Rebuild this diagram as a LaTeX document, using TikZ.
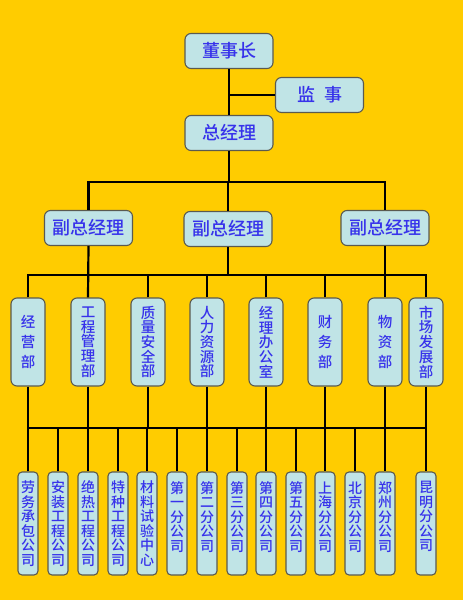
\documentclass[tikz,border=0pt]{standalone}
\usepackage{fontspec}
\setmainfont{Noto Sans CJK SC Medium}
\definecolor{bgyellow}{RGB}{255,204,0}
\definecolor{boxblue}{RGB}{192,228,230}
\definecolor{boxline}{RGB}{90,90,80}
\definecolor{txtblue}{RGB}{55,50,235}
\begin{document}
\begin{tikzpicture}[x=1pt, y=-1pt,
  box/.style={draw=boxline, line width=1.1pt, fill=boxblue, rounded corners=6pt,
    text=txtblue, inner sep=0pt},
  topbox/.style={box, minimum width=88pt, minimum height=35pt,
    font=\fontsize{18pt}{20pt}\selectfont},
  deptbox/.style={box, minimum width=34pt, minimum height=88pt, align=center,
    font=\fontsize{14.5pt}{14.7pt}\selectfont},
  deptwide/.style={deptbox, font=\fontsize{14.5pt}{20pt}\selectfont},
  subbox/.style={box, rounded corners=4pt, minimum width=20pt, minimum height=103pt,
    align=center, font=\fontsize{14pt}{14.5pt}\selectfont},
  wire/.style={line width=2.2pt}]

\path[fill=bgyellow, use as bounding box] (0,0) rectangle (463,600);

% top
\node[topbox] (chair) at (229,51) {董事长};
\node[topbox] (super) at (319.5,95) {监\hspace{9pt}事};
\node[topbox] (gm) at (229,133) {总经理};

\node[topbox] (vp1) at (88.5,228) {副总经理};
\node[topbox] (vp2) at (228,229) {副总经理};
\node[topbox] (vp3) at (385,228) {副总经理};

% departments
\node[deptwide] (d1) at (28,342) {经\\营\\部};
\node[deptbox] (d2) at (88,342) {工\\程\\管\\理\\部};
\node[deptbox] (d3) at (148,342) {质\\量\\安\\全\\部};
\node[deptbox] (d4) at (207,342) {人\\力\\资\\源\\部};
\node[deptbox] (d5) at (266,342) {经\\理\\办\\公\\室};
\node[deptwide] (d6) at (325,342) {财\\务\\部};
\node[deptwide] (d7) at (385,342) {物\\资\\部};
\node[deptbox] (d8) at (426,342) {市\\场\\发\\展\\部};

% subsidiaries
\node[subbox] (s1) at (28,523.5) {劳\\务\\承\\包\\公\\司};
\node[subbox] (s2) at (58,523.5) {安\\装\\工\\程\\公\\司};
\node[subbox] (s3) at (88,523.5) {绝\\热\\工\\程\\公\\司};
\node[subbox] (s4) at (118,523.5) {特\\种\\工\\程\\公\\司};
\node[subbox] (s5) at (147,523.5) {材\\料\\试\\验\\中\\心};
\node[subbox] (s6) at (177,523.5) {第\\一\\分\\公\\司\\\mbox{}};
\node[subbox] (s7) at (207,523.5) {第\\二\\分\\公\\司\\\mbox{}};
\node[subbox] (s8) at (237,523.5) {第\\三\\分\\公\\司\\\mbox{}};
\node[subbox] (s9) at (266,523.5) {第\\四\\分\\公\\司\\\mbox{}};
\node[subbox] (s10) at (296,523.5) {第\\五\\分\\公\\司\\\mbox{}};
\node[subbox] (s11) at (325,523.5) {上\\海\\分\\公\\司\\\mbox{}};
\node[subbox] (s12) at (355,523.5) {北\\京\\分\\公\\司\\\mbox{}};
\node[subbox] (s13) at (385,523.5) {郑\\州\\分\\公\\司\\\mbox{}};
\node[subbox] (s14) at (426,523.5) {昆\\明\\分\\公\\司\\\mbox{}};

% bus lines
\coordinate (busA) at (228,182);
\coordinate (busB) at (228,275);
\coordinate (busC) at (228,428);

\draw[wire] (chair.south) -- (gm.north);
\draw[wire] (super.west) -- (super.west -| gm.north);
\draw[wire] (gm.south) -- (gm.south |- busA);
\draw[wire] (vp1.north) |- (busA) -| (vp3.north);
\draw[wire] (busA) -- (vp2.north);

\draw[wire] (d1.north) |- (busB) -| (d8.north);
\draw[wire] (vp1.south) -- (d2.north);
\draw[wire] (vp3.south) -- (d7.north);
\draw[wire] (vp2.south) -- (busB);
\draw[wire] (d3.north) -- (d3.north |- busB);
\draw[wire] (d4.north) -- (d4.north |- busB);
\draw[wire] (d5.north) -- (d5.north |- busB);
\draw[wire] (d6.north) -- (d6.north |- busB);

\draw[wire] (s1.north) |- (busC) -| (s14.north);
\draw[wire] (d1.south) -- (s1.north);
\draw[wire] (d2.south) -- (s3.north);
\draw[wire] (d3.south) -- (d3.south |- busC);
\draw[wire] (d4.south) -- (s7.north);
\draw[wire] (d5.south) -- (s9.north);
\draw[wire] (d6.south) -- (s11.north);
\draw[wire] (d7.south) -- (s13.north);
\draw[wire] (d8.south) -- (s14.north);
\draw[wire] (s2.north) -- (s2.north |- busC);
\draw[wire] (s4.north) -- (s4.north |- busC);
\draw[wire] (s5.north) -- (s5.north |- busC);
\draw[wire] (s6.north) -- (s6.north |- busC);
\draw[wire] (s8.north) -- (s8.north |- busC);
\draw[wire] (s10.north) -- (s10.north |- busC);
\draw[wire] (s12.north) -- (s12.north |- busC);
\end{tikzpicture}
\end{document}
